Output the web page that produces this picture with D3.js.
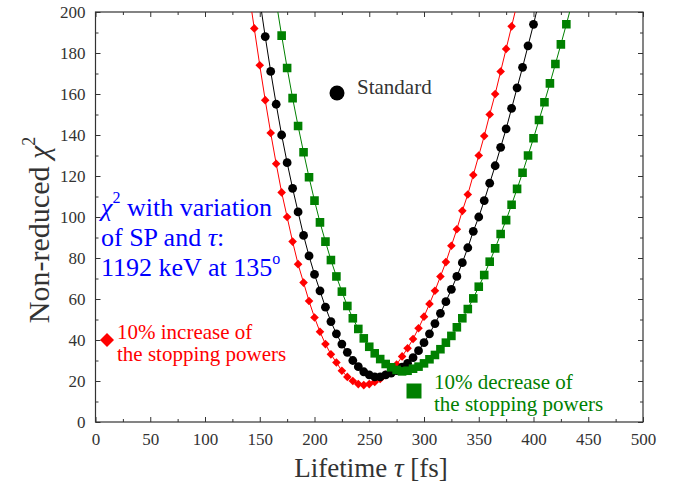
<!DOCTYPE html>
<html>
<head>
<meta charset="utf-8">
<script src="https://cdn.jsdelivr.net/npm/d3@7"></script>
<style>
  html, body { margin: 0; padding: 0; background: #fff; }
  svg text { font-family: "Liberation Serif", "Times New Roman", "DejaVu Serif", serif; }
</style>
</head>
<body>
<svg id="chart" width="678" height="484"></svg>
<script>
// Lifetime grid (fs) and non-reduced chi-square values for each stopping-power setting.
// The first and last entry of every series lie just above 200 so the line leaves the frame.
const lifetimeIncrease = [140,145,150,155,160,165,170,175,180,185,190,195,200,205,210,215,220,225,230,235,240,245,250,255,260,265,270,275,280,285,290,295,300,305,310,315,320,325,330,335,340,345,350,355,360,365,370,375,380,385];
const chi2Increase = [210,192,174,157,141,126,112,100,88,77,68,59,51,44,38,33,29,25,22,20,18.5,18,18.5,19.5,21,23,25.5,28,32,36,40.5,45.7,51.4,57.6,64,71,78,86,94,103,111,120.5,130,139.5,150,160,171,182,193,204];

const lifetimeStandard = [150,155,160,165,170,175,180,185,190,195,200,205,210,215,220,225,230,235,240,245,250,255,260,265,270,275,280,285,290,295,300,305,310,315,320,325,330,335,340,345,350,355,360,365,370,375,380,385,390,395,400,405];
const chi2Standard = [206,188,171,155,140,126.5,114,102.5,91,81,72,64,56,49,43,38,34,30,27,24.5,23,22,22,23,23.8,25.1,26.7,28.6,31.4,34.8,38.7,43,48,53,58.7,64.7,71,77.7,85,93,100,108,116.5,125,134,143,153,163,173,183.5,194,205];

const lifetimeDecrease = [165,170,175,180,185,190,195,200,205,210,215,220,225,230,235,240,245,250,255,260,265,270,275,280,285,290,295,300,305,310,315,320,325,330,335,340,345,350,355,360,365,370,375,380,385,390,395,400,405,410,415,420,425,430,435];
const chi2Decrease = [205,188.5,172.7,158,144.4,131.6,119.4,108,97.4,88,79,71,63.6,56.6,50.6,45.4,40.8,36.7,33.5,30.7,28.3,26.7,25.4,24.7,25,26,27,28.6,30.6,32.7,35.5,38.7,42,46.2,50.6,55.1,60.3,66,71.7,78.2,84.7,91.7,98.5,106,113.7,121.6,130,138.4,147.3,156,165.2,174.6,184.2,194,204];

const xTicksMajor = [0,50,100,150,200,250,300,350,400,450,500];
const xTicksMinor = [25,75,125,175,225,275,325,375,425,475];
const yTicksMajor = [0,20,40,60,80,100,120,140,160,180,200];
const yTicksMinor = [10,30,50,70,90,110,130,150,170,190];

const serif = "'Liberation Serif', 'Times New Roman', 'DejaVu Serif', serif";
const svg = d3.select("#chart");
const m = { left: 95.5, right: 35, top: 12, bottom: 62 };
const W = 678, H = 484;
const iw = W - m.left - m.right, ih = H - m.top - m.bottom;

const x = d3.scaleLinear().domain([0, 500]).range([0, iw]);
const y = d3.scaleLinear().domain([0, 200]).range([ih, 0]);

const g = svg.append("g").attr("transform", `translate(${m.left},${m.top})`);

g.append("defs").append("clipPath").attr("id", "plotClip")
  .append("rect").attr("width", iw).attr("height", ih);

// Axes with inward ticks on all four sides
const axisColor = "#333";
function styleAxis(sel, showLabels) {
  sel.attr("font-family", serif).attr("font-size", 17);
  sel.select(".domain").remove();
  sel.selectAll(".tick line").attr("stroke", axisColor).attr("stroke-width", 1);
  sel.selectAll(".tick text")
    .attr("fill", axisColor)
    .style("display", showLabels ? null : "none");
}

g.append("g").attr("transform", `translate(0,${ih})`)
  .call(d3.axisBottom(x).tickValues(xTicksMinor).tickSize(-3).tickFormat(""))
  .call(s => styleAxis(s, false));
g.append("g").attr("transform", `translate(0,${ih})`)
  .call(d3.axisBottom(x).tickValues(xTicksMajor).tickSize(-5).tickPadding(11).tickFormat(d3.format("d")))
  .call(s => styleAxis(s, true));
g.append("g")
  .call(d3.axisTop(x).tickValues(xTicksMinor).tickSize(-3).tickFormat(""))
  .call(s => styleAxis(s, false));
g.append("g")
  .call(d3.axisTop(x).tickValues(xTicksMajor).tickSize(-5).tickFormat(""))
  .call(s => styleAxis(s, false));

g.append("g")
  .call(d3.axisLeft(y).tickValues(yTicksMinor).tickSize(-3).tickFormat(""))
  .call(s => styleAxis(s, false));
g.append("g")
  .call(d3.axisLeft(y).tickValues(yTicksMajor).tickSize(-5).tickPadding(10).tickFormat(d3.format("d")))
  .call(s => styleAxis(s, true));
g.append("g").attr("transform", `translate(${iw},0)`)
  .call(d3.axisRight(y).tickValues(yTicksMinor).tickSize(-3).tickFormat(""))
  .call(s => styleAxis(s, false));
g.append("g").attr("transform", `translate(${iw},0)`)
  .call(d3.axisRight(y).tickValues(yTicksMajor).tickSize(-5).tickFormat(""))
  .call(s => styleAxis(s, false));

// Frame
g.append("rect").attr("width", iw).attr("height", ih)
  .attr("fill", "none").attr("stroke", axisColor).attr("stroke-width", 1.2);

// Marker shapes
const diamond = r => `M0,${-r}L${r},0L0,${r}L${-r},0Z`;
const square = s => `M${-s/2},${-s/2}h${s}v${s}h${-s}Z`;
const circle = r => d3.symbol().type(d3.symbolCircle).size(Math.PI * r * r)();

const series = [
  { xs: lifetimeIncrease, ys: chi2Increase, color: "#ff0000", shape: diamond(4.3) },
  { xs: lifetimeStandard, ys: chi2Standard, color: "#000000", shape: circle(4.4) },
  { xs: lifetimeDecrease, ys: chi2Decrease, color: "#008000", shape: square(8.6) }
];

const plot = g.append("g").attr("clip-path", "url(#plotClip)");
const line = d3.line().x(d => x(d[0])).y(d => y(d[1]));

series.forEach(s => {
  const pts = s.xs.map((v, i) => [v, s.ys[i]]);
  plot.append("path").datum(pts)
    .attr("d", line).attr("fill", "none")
    .attr("stroke", s.color).attr("stroke-width", 1);
  plot.selectAll(null).data(pts).enter().append("path")
    .attr("d", s.shape)
    .attr("transform", d => `translate(${x(d[0])},${y(d[1])})`)
    .attr("fill", s.color);
});

// Legend entries
const legend = svg.append("g").attr("font-family", serif);
legend.append("path").attr("d", circle(7.5))
  .attr("transform", "translate(337,93)").attr("fill", "#000");
legend.append("text").attr("x", 357).attr("y", 94)
  .attr("fill", "#333").attr("font-size", 21).text("Standard");

legend.append("path").attr("d", diamond(7))
  .attr("transform", "translate(107,340)").attr("fill", "#ff0000");
const redT = legend.append("text").attr("fill", "#ff0000").attr("font-size", 21);
redT.append("tspan").attr("x", 117).attr("y", 339).text("10% increase of");
redT.append("tspan").attr("x", 117).attr("y", 361).text("the stopping powers");

legend.append("path").attr("d", square(15))
  .attr("transform", "translate(414,391)").attr("fill", "#008000");
const grnT = legend.append("text").attr("fill", "#008000").attr("font-size", 21);
grnT.append("tspan").attr("x", 434).attr("y", 389).text("10% decrease of");
grnT.append("tspan").attr("x", 434).attr("y", 411).text("the stopping powers");

// Annotation in blue
const note = svg.append("text").attr("fill", "#0000ff").attr("font-family", serif).attr("font-size", 26);
const l1 = note.append("tspan").attr("x", 101).attr("y", 216);
l1.append("tspan").style("font-style", "italic").text("χ");
l1.append("tspan").attr("dy", -13).attr("font-size", 16).text("2");
l1.append("tspan").attr("dy", 13).text(" with variation");
const l2 = note.append("tspan").attr("x", 101).attr("y", 246);
l2.append("tspan").text("of SP and ");
l2.append("tspan").style("font-style", "italic").text("τ");
l2.append("tspan").text(":");
const l3 = note.append("tspan").attr("x", 101).attr("y", 276);
l3.append("tspan").text("1192 keV at 135");
l3.append("tspan").attr("dy", -12).attr("font-size", 16).text("o");

// Axis titles
const xt = svg.append("text").attr("x", 371).attr("y", 477)
  .attr("text-anchor", "middle").attr("fill", "#333")
  .attr("font-family", serif).attr("font-size", 27);
xt.append("tspan").text("Lifetime ");
xt.append("tspan").style("font-style", "italic").text("τ");
xt.append("tspan").text(" [fs]");

const yt = svg.append("text")
  .attr("transform", "translate(49,230) rotate(-90)")
  .attr("text-anchor", "middle").attr("fill", "#333")
  .attr("font-family", serif).attr("font-size", 30);
yt.append("tspan").text("Non-reduced ");
yt.append("tspan").style("font-style", "italic").text("χ");
yt.append("tspan").attr("dy", -14).attr("font-size", 18).text("2");
</script>
</body>
</html>
